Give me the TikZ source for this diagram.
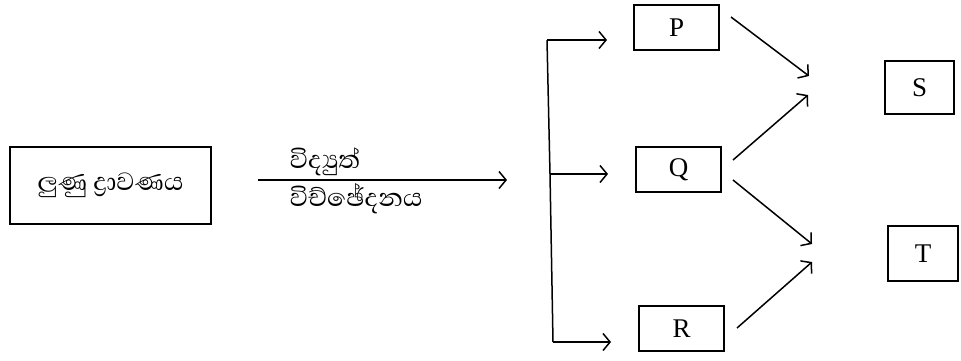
\documentclass[tikz,border=0pt]{standalone}
\usepackage{fontspec}
\setmainfont{Liberation Serif}
\newfontfamily\sinhala[Script=Sinhala]{Abhaya Libre}
\usetikzlibrary{arrows.meta}
\begin{document}
\begin{tikzpicture}[x=1pt,y=-1pt,
  box/.style={draw,line width=1.5pt,inner sep=0pt,font=\fontsize{27}{30}\selectfont},
  sin/.style={font=\sinhala\fontsize{32}{35}\selectfont,inner sep=0pt},
  conn/.style={line width=1.5pt,-{Straight Barb[length=7pt,width=17pt,line width=1.5pt]}},
  plain/.style={line width=1.5pt}]
\useasboundingbox (0,0) rectangle (961,360);
\node[box,minimum width=201pt,minimum height=77pt,sin] (salt) at (110.5,185.5) {ලුණු ද්‍රාවණය};
\node[box,minimum width=85pt,minimum height=45pt] (P) at (676.5,27.5) {P};
\node[box,minimum width=85pt,minimum height=45pt] (Q) at (678.5,169.5) {Q};
\node[box,minimum width=85pt,minimum height=45pt] (R) at (681.5,328.5) {R};
\node[box,minimum width=69pt,minimum height=53pt] (S) at (919.5,87.5) {S};
\node[box,minimum width=70pt,minimum height=55pt] (T) at (923,253.5) {T};
\coordinate (a0) at (258,180);
\coordinate (a1) at (507,180);
\draw[conn] (a0) -- (a1)
  node[pos=0.125,anchor=base west,sin,yshift=12pt] {විද්‍යුත්}
  node[pos=0.125,anchor=base west,sin,yshift=-26pt] {විච්ඡේදනය};
\coordinate (vt) at (547,40);
\coordinate (vm) at (550,174);
\coordinate (vb) at (553,342);
\draw[plain] (vt) -- (vm) -- (vb);
\coordinate (pe) at (607,40);
\coordinate (qe) at (608,174);
\coordinate (re) at (611,342);
\draw[conn] (vt) -- (pe);
\draw[conn] (vm) -- (qe);
\draw[conn] (vb) -- (re);
\coordinate (ps0) at (731,17);
\coordinate (ps1) at (809,76);
\coordinate (qs0) at (733,160);
\coordinate (qs1) at (808,95);
\coordinate (qt0) at (733,180);
\coordinate (qt1) at (812,244);
\coordinate (rt0) at (737,328);
\coordinate (rt1) at (812,262);
\draw[conn] (ps0) -- (ps1);
\draw[conn] (qs0) -- (qs1);
\draw[conn] (qt0) -- (qt1);
\draw[conn] (rt0) -- (rt1);
\end{tikzpicture}
\end{document}
